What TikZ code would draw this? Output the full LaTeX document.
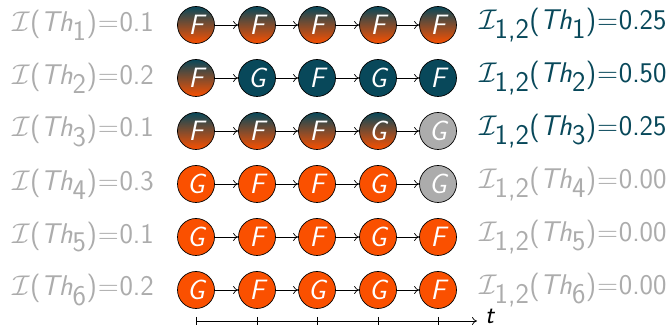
\RequirePackage{fix-cm}
\documentclass[tikz,border=0pt]{standalone}
\usetikzlibrary{arrows.meta}
\definecolor{tealc}{RGB}{8,72,90}
\definecolor{orangec}{RGB}{250,80,0}
\definecolor{grayc}{RGB}{172,172,172}
\definecolor{labgray}{RGB}{172,172,172}
\newcommand{\lefttxt}[2]{$\mathcal{I}$(\textsl{Th}$_{\textsf{#1}}$)\kern1pt$=$\kern1pt#2}
\newcommand{\righttxt}[2]{$\mathcal{I}_{\textsf{1,2}}$(\textsl{Th}$_{\textsf{#1}}$)\kern1pt$=$\kern1pt#2}
\begin{document}
\begin{tikzpicture}[x=1pt,y=-1pt,
  st/.style={circle,draw=black,line width=0.7pt,minimum size=37pt,inner sep=0pt,text=white,
    font=\sffamily\fontsize{28}{28}\selectfont\slshape},
  sM/.style={st,top color=tealc,bottom color=orangec},
  sT/.style={st,fill=tealc},
  sO/.style={st,fill=orangec},
  sX/.style={st,fill=grayc},
  conn/.style={-{To[length=5pt,width=8pt]},line width=0.7pt},
  lab/.style={font=\sffamily\fontsize{28.5}{28.5}\selectfont,inner sep=0pt},
  leftlab/.style={lab,anchor=east,text=labgray},
  rightlab/.style={lab,anchor=west}
]
\useasboundingbox (0,0) rectangle (670,328);
% row 1
\node[sM] (c1-1) at (196,25) {F};
\node[sM] (c1-2) at (257,25) {F};
\node[sM] (c1-3) at (317,25) {F};
\node[sM] (c1-4) at (378,25) {F};
\node[sM] (c1-5) at (438,25) {F};
% row 2
\node[sM] (c2-1) at (196,78) {F};
\node[sT] (c2-2) at (257,78) {G};
\node[sT] (c2-3) at (317,78) {F};
\node[sT] (c2-4) at (378,78) {G};
\node[sT] (c2-5) at (438,78) {F};
% row 3
\node[sM] (c3-1) at (196,131) {F};
\node[sM] (c3-2) at (257,131) {F};
\node[sM] (c3-3) at (317,131) {F};
\node[sM] (c3-4) at (378,131) {G};
\node[sX] (c3-5) at (438,131) {G};
% row 4
\node[sO] (c4-1) at (196,184) {G};
\node[sO] (c4-2) at (257,184) {F};
\node[sO] (c4-3) at (317,184) {F};
\node[sO] (c4-4) at (378,184) {G};
\node[sX] (c4-5) at (438,184) {G};
% row 5
\node[sO] (c5-1) at (196,237) {G};
\node[sO] (c5-2) at (257,237) {F};
\node[sO] (c5-3) at (317,237) {F};
\node[sO] (c5-4) at (378,237) {G};
\node[sO] (c5-5) at (438,237) {F};
% row 6
\node[sO] (c6-1) at (196,290) {G};
\node[sO] (c6-2) at (257,290) {F};
\node[sO] (c6-3) at (317,290) {G};
\node[sO] (c6-4) at (378,290) {G};
\node[sO] (c6-5) at (438,290) {F};
\foreach \r in {1,...,6}{
  \foreach \i [evaluate=\i as \j using int(\i+1)] in {1,...,4}{
    \draw[conn] (c\r-\i) -- (c\r-\j);
  }
}
% left labels
\node[leftlab] (l1) at (154,25) {\lefttxt{1}{0.1}};
\node[leftlab] (l2) at (154,78) {\lefttxt{2}{0.2}};
\node[leftlab] (l3) at (154,131) {\lefttxt{3}{0.1}};
\node[leftlab] (l4) at (154,184) {\lefttxt{4}{0.3}};
\node[leftlab] (l5) at (154,237) {\lefttxt{5}{0.1}};
\node[leftlab] (l6) at (154,290) {\lefttxt{6}{0.2}};
% right labels
\node[rightlab,text=tealc] (r1) at (479,25) {\righttxt{1}{0.25}};
\node[rightlab,text=tealc] (r2) at (479,78) {\righttxt{2}{0.50}};
\node[rightlab,text=tealc] (r3) at (479,131) {\righttxt{3}{0.25}};
\node[rightlab,text=labgray] (r4) at (479,184) {\righttxt{4}{0.00}};
\node[rightlab,text=labgray] (r5) at (479,237) {\righttxt{5}{0.00}};
\node[rightlab,text=labgray] (r6) at (479,290) {\righttxt{6}{0.00}};
% time axis
\coordinate (t0) at (196,321);
\coordinate (tend) at (477,321);
\draw[conn] (t0) -- (tend);
\foreach \x in {196,257,317,378,438}{
  \draw[line width=0.7pt] (\x,317) -- (\x,325);
}
\node[lab,anchor=base west,font=\sffamily\slshape\fontsize{26}{26}\selectfont] (tl) at (485,324) {t};
\end{tikzpicture}
\end{document}
